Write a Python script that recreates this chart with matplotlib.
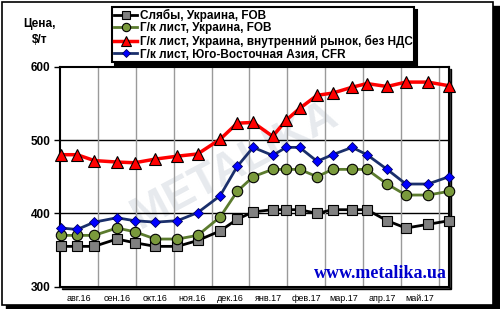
import matplotlib.pyplot as plt
import matplotlib.patches as mpatches
import pandas as pd

# data
dates = ["2016-08-02", "2016-08-15", "2016-08-29", "2016-09-16", "2016-09-30",
         "2016-10-17", "2016-11-04", "2016-11-20", "2016-12-08", "2016-12-22",
         "2017-01-04", "2017-01-20", "2017-01-31", "2017-02-10", "2017-02-23",
         "2017-03-07", "2017-03-23", "2017-04-04", "2017-04-20", "2017-05-05",
         "2017-05-23", "2017-06-09"]

slabs_fob = [355, 355, 355, 365, 360, 355, 355, 363, 376, 392, 402,
             405, 405, 405, 400, 405, 405, 405, 390, 380, 385, 390]
hrc_ua_fob = [370, 370, 370, 380, 375, 365, 365, 370, 395, 430, 450,
              460, 460, 460, 450, 460, 460, 460, 440, 425, 425, 430]
hrc_ua_domestic = [480, 480, 472, 470, 469, 474, 478, 481, 501, 523, 524,
                   505, 527, 543, 561, 564, 572, 577, 573, 579, 579, 574]
hrc_sea_cfr = [380, 378, 388, 394, 390, 388, 390, 401, 424, 464, 490,
               479, 490, 490, 471, 480, 490, 480, 460, 440, 440, 450]

month_labels = ["авг.16", "сен.16", "окт.16", "ноя.16", "дек.16",
                "янв.17", "фев.17", "мар.17", "апр.17", "май.17"]

labels = ["Слябы, Украина, FOB",
          "Г/к лист, Украина, FOB",
          "Г/к лист, Украина, внутренний рынок, без НДС",
          "Г/к лист, Юго-Восточная Азия, CFR"]


def month_pos(d):
    # equal-width months, starting at 1 Aug 2016
    return (d.year - 2016) * 12 + d.month - 8 + (d.day - 1) / d.days_in_month


x = [month_pos(d) for d in pd.to_datetime(dates)]

plt.rcParams['font.family'] = ['Liberation Sans', 'DejaVu Sans']

fig = plt.figure(figsize=(5, 3.09), dpi=100)
fig.patch.set_facecolor("white")

# outer frame with a dark shadow
fig.patches.append(mpatches.Rectangle((6 / 500, 0), 494 / 500, 1 - 6 / 309,
                                      transform=fig.transFigure, color="black", zorder=-2))
fig.patches.append(mpatches.Rectangle((1.5 / 500, 4 / 309), 491 / 500, 1 - 5.5 / 309,
                                      transform=fig.transFigure, facecolor="white",
                                      edgecolor="black", lw=1.2, zorder=-1))

ax = fig.add_axes([60 / 500, 1 - 286.7 / 309, 389 / 500, 220 / 309])

# plot area with shadow
ax.add_patch(mpatches.Rectangle((0.006, -0.01), 1.0, 1.0, transform=ax.transAxes,
                                color="black", zorder=-5, clip_on=False))
ax.add_patch(mpatches.Rectangle((0, 0), 1.0, 1.0, transform=ax.transAxes,
                                color="white", zorder=-4, clip_on=False))
ax.set_zorder(1)
ax.patch.set_visible(False)

# faint watermark
ax.text(0.45, 0.55, "METALIKA", transform=ax.transAxes, fontsize=32, fontweight="bold",
        color="#e7eaee", rotation=28, ha="center", va="center", zorder=0)

ax.plot(x, slabs_fob, color="black", lw=2, marker="s", ms=7.5,
        mfc="#808080", mec="black", mew=0.8, label=labels[0], zorder=3, clip_on=False)
ax.plot(x, hrc_ua_fob, color="#5b7b2e", lw=2, marker="o", ms=7.5,
        mfc="#7a9a3c", mec="black", mew=0.8, label=labels[1], zorder=3, clip_on=False)
ax.plot(x, hrc_ua_domestic, color="red", lw=2.5, marker="^", ms=8.5,
        mfc="red", mec="black", mew=0.8, label=labels[2], zorder=4, clip_on=False)
ax.plot(x, hrc_sea_cfr, color="#1a2f6b", lw=2, marker="D", ms=5.5,
        mfc="blue", mec="#000060", mew=0.6, label=labels[3], zorder=4, clip_on=False)

ax.set_xlim(0, x[-1])
ax.set_ylim(300, 600)
ax.set_yticks([300, 400, 500, 600])
ax.tick_params(axis="y", labelsize=8.5, length=4, width=1, pad=3)
for t in ax.get_yticklabels():
    t.set_fontweight("bold")

ax.set_xticks(range(1, 11))
ax.set_xticklabels([])
ax.set_xticks([i + 0.5 for i in range(10)], minor=True)
ax.set_xticklabels(month_labels, minor=True, fontsize=6.5)
ax.tick_params(axis="x", which="both", length=0, pad=5)

ax.grid(axis="x", which="major", color="#9a9a9a", lw=1)
for v in [400, 500]:
    ax.axhline(v, color="black", lw=1, zorder=1)

for s in ax.spines.values():
    s.set_color("black")
    s.set_linewidth(1.5)

ax.text(0.995, 0.02, "www.metalika.ua", transform=ax.transAxes, ha="right", va="bottom",
        fontsize=13, fontweight="bold", color="#0000cc", family="Liberation Serif", zorder=5)

fig.text(40 / 500, 1 - 32 / 309, "Цена,\n$/т", ha="center", va="center",
         fontsize=8.5, fontweight="bold", linespacing=1.4)

leg = fig.legend(loc="upper left", bbox_to_anchor=(112 / 500, 1 - 7 / 309),
                 prop={"weight": "bold", "size": 8.5}, frameon=True,
                 fancybox=False, borderpad=0.15, labelspacing=0.05, handlelength=2.0,
                 handletextpad=0.2, borderaxespad=0, markerscale=0.8,
                 shadow={"color": "black", "alpha": 1, "ox": 2, "oy": -2})
leg.get_frame().set_edgecolor("black")
leg.get_frame().set_linewidth(1.5)
leg.get_frame().set_alpha(1)

fig.savefig("out.png", dpi=100)
